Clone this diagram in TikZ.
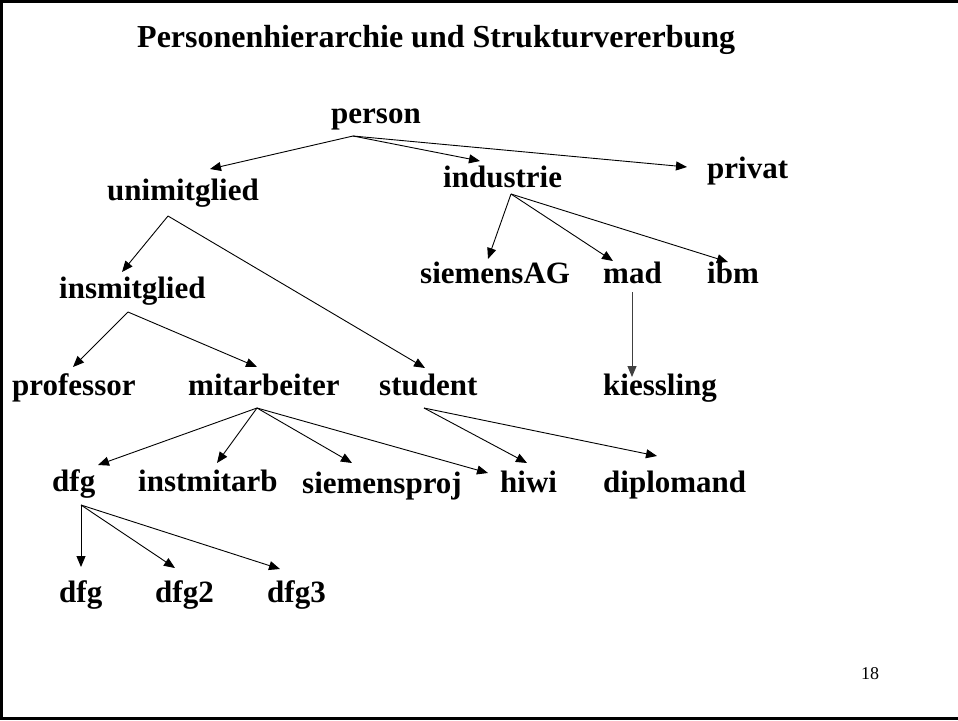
\documentclass[tikz,border=0pt]{standalone}
\usepackage{fontspec}
\setmainfont{Liberation Serif}
\usetikzlibrary{arrows.meta}
\begin{document}
\begin{tikzpicture}[x=1pt,y=-1pt,
  lbl/.style={anchor=base west, inner sep=0pt, font=\fontsize{31}{36}\selectfont\bfseries},
  link/.style={line width=0.9pt, -{Triangle[length=11pt,width=9pt]}}]
\useasboundingbox (0,0) rectangle (958,720);
% slide frame (right side runs off the page)
\draw[line width=3pt] (970,1.5) -- (1.5,1.5) -- (1.5,718) -- (970,718);

% title and page number
\node[anchor=base west, inner sep=0pt, font=\fontsize{32}{38}\selectfont\bfseries] (title) at (137,47) {Personenhierarchie und Strukturvererbung};
\node[anchor=base west, inner sep=0pt, font=\fontsize{18}{22}\selectfont] (pageno) at (861,679) {18};

% class names
\node[lbl] (person)      at (331,123) {person};
\node[lbl] (unimitglied) at (107,200) {unimitglied};
\node[lbl] (industrie)   at (443,187) {industrie};
\node[lbl] (privat)      at (707,178) {privat};
\node[lbl] (siemensAG)   at (420,283) {siemensAG};
\node[lbl] (mad)         at (603,283) {mad};
\node[lbl] (ibm)         at (707,283) {ibm};
\node[lbl] (kiessling)   at (603,395) {kiessling};
\node[lbl] (insmitglied) at (59,298)  {insmitglied};
\node[lbl] (professor)   at (12,395)  {professor};
\node[lbl] (mitarbeiter) at (188,395) {mitarbeiter};
\node[lbl] (student)     at (379,395) {student};
\node[lbl] (dfg)         at (52,491)  {dfg};
\node[lbl] (instmitarb)  at (138,491) {instmitarb};
\node[lbl] (siemensproj) at (302,493) {siemensproj};
\node[lbl] (hiwi)        at (500,492) {hiwi};
\node[lbl] (diplomand)   at (603,492) {diplomand};
\node[lbl] (dfgsub)      at (59,602)  {dfg};
\node[lbl] (dfgzwei)     at (155,602) {dfg2};
\node[lbl] (dfgdrei)     at (267,602) {dfg3};

% where the links leave each parent
\coordinate (person-o)      at (353,136);
\coordinate (unimitglied-o) at (168,216);
\coordinate (insmitglied-o) at (128,312);
\coordinate (industrie-o)   at (511,194);
\coordinate (mad-o)         at (632,292);
\coordinate (mitarbeiter-o) at (257,408);
\coordinate (student-o)     at (424,408);
\coordinate (dfg-o)         at (81,505);

% where the arrow tips reach each child
\coordinate (unimitglied-i) at (210,169);
\coordinate (industrie-i)   at (480,161);
\coordinate (privat-i)      at (687,167);
\coordinate (insmitglied-i) at (122,272);
\coordinate (student-i)     at (425,368);
\coordinate (professor-i)   at (73,367);
\coordinate (mitarbeiter-i) at (257,367);
\coordinate (siemensAG-i)   at (488,259);
\coordinate (mad-i)         at (613,261);
\coordinate (ibm-i)         at (728,262);
\coordinate (kiessling-i)   at (632,377);
\coordinate (dfg-i)         at (98,465);
\coordinate (instmitarb-i)  at (217,463);
\coordinate (siemensproj-i) at (352,463);
\coordinate (hiwi-m)        at (488,473);
\coordinate (hiwi-s)        at (527,463);
\coordinate (diplomand-i)   at (657,456);
\coordinate (dfgsub-i)      at (81,567);
\coordinate (dfgzwei-i)     at (175,568);
\coordinate (dfgdrei-i)     at (280,569);

% inheritance links
\draw[link] (person-o) -- (unimitglied-i);
\draw[link] (person-o) -- (industrie-i);
\draw[link] (person-o) -- (privat-i);
\draw[link] (unimitglied-o) -- (insmitglied-i);
\draw[link] (unimitglied-o) -- (student-i);
\draw[link] (insmitglied-o) -- (professor-i);
\draw[link] (insmitglied-o) -- (mitarbeiter-i);
\draw[link] (industrie-o) -- (siemensAG-i);
\draw[link] (industrie-o) -- (mad-i);
\draw[link] (industrie-o) -- (ibm-i);
\draw[link, draw=black!75] (mad-o) -- (kiessling-i);
\draw[link] (mitarbeiter-o) -- (dfg-i);
\draw[link] (mitarbeiter-o) -- (instmitarb-i);
\draw[link] (mitarbeiter-o) -- (siemensproj-i);
\draw[link] (mitarbeiter-o) -- (hiwi-m);
\draw[link] (student-o) -- (hiwi-s);
\draw[link] (student-o) -- (diplomand-i);
\draw[link] (dfg-o) -- (dfgsub-i);
\draw[link] (dfg-o) -- (dfgzwei-i);
\draw[link] (dfg-o) -- (dfgdrei-i);
\end{tikzpicture}
\end{document}
